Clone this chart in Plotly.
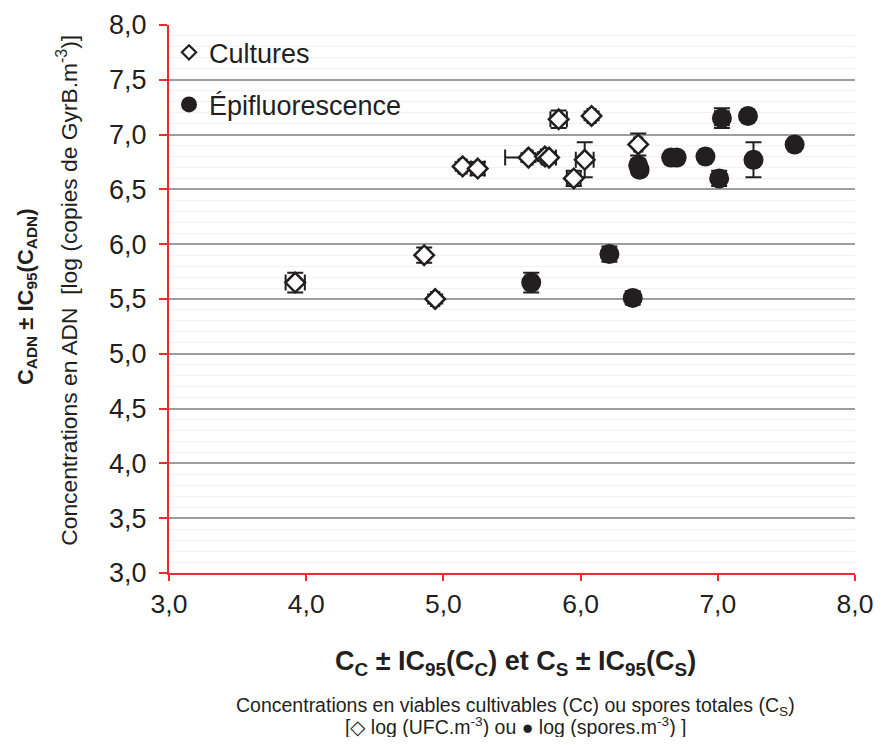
import plotly.graph_objects as go

# Cultures (diamonds): log UFC.m-3 vs log copies GyrB.m-3
cult_x = [3.92, 4.86, 4.94, 5.14, 5.25, 5.62, 5.74, 5.77, 5.84, 6.08, 5.95, 6.03, 6.42]
cult_y = [5.65, 5.90, 5.50, 6.71, 6.69, 6.79, 6.80, 6.79, 7.14, 7.17, 6.60, 6.77, 6.91]
cult_ex_plus = [0.07, 0.03, 0.03, 0.03, 0.05, 0.03, 0.03, 0.05, 0.06, 0.03, 0.05, 0.065, 0.03]
cult_ex_minus = [0.07, 0.03, 0.03, 0.03, 0.05, 0.17, 0.03, 0.05, 0.06, 0.03, 0.05, 0.065, 0.03]
cult_ey = [0.09, 0.07, 0.04, 0.04, 0.06, 0.04, 0.04, 0.05, 0.08, 0.04, 0.07, 0.16, 0.10]

# Epifluorescence (filled circles): log spores.m-3 vs log copies GyrB.m-3
epi_x = [6.42, 6.43, 6.66, 6.70, 6.91, 7.03, 7.22, 7.01, 7.26, 7.56, 6.21, 5.64, 6.38]
epi_y = [6.72, 6.68, 6.79, 6.79, 6.80, 7.15, 7.17, 6.60, 6.77, 6.91, 5.91, 5.65, 5.51]
epi_ex = [0.04, 0.04, 0.04, 0.04, 0.04, 0.05, 0.04, 0.04, 0.04, 0.04, 0.04, 0.04, 0.04]
epi_ey = [0.05, 0.05, 0.04, 0.05, 0.04, 0.09, 0.04, 0.07, 0.16, 0.04, 0.07, 0.09, 0.06]

tick_vals_y = [3.0, 3.5, 4.0, 4.5, 5.0, 5.5, 6.0, 6.5, 7.0, 7.5, 8.0]
tick_vals_x = [3.0, 4.0, 5.0, 6.0, 7.0, 8.0]

BLACK = "#231f20"
RED = "#ee2a2e"
FONT = "Arial, Liberation Sans, sans-serif"

err_style = dict(color=BLACK, thickness=2, width=8)

fig = go.Figure()

fig.add_trace(
    go.Scatter(
        x=cult_x,
        y=cult_y,
        mode="markers",
        name="Cultures",
        showlegend=False,
        marker=dict(symbol="diamond", size=15, color="white",
                    line=dict(color=BLACK, width=2.5)),
        error_x=dict(type="data", symmetric=False, array=cult_ex_plus,
                     arrayminus=cult_ex_minus, **err_style),
        error_y=dict(type="data", array=cult_ey, **err_style),
    )
)

fig.add_trace(
    go.Scatter(
        x=epi_x,
        y=epi_y,
        mode="markers",
        name="Épifluorescence",
        showlegend=False,
        marker=dict(symbol="circle", size=20, color=BLACK,
                    line=dict(color=BLACK, width=0)),
        error_x=dict(type="data", array=epi_ex, **err_style),
        error_y=dict(type="data", array=epi_ey, **err_style),
    )
)

# legend-only entries (smaller symbols, as in the original legend)
fig.add_trace(go.Scatter(
    x=[None], y=[None], mode="markers", name="Cultures", legendgroup="c",
    marker=dict(symbol="diamond", size=11, color="white", line=dict(color=BLACK, width=2.2)),
))
fig.add_trace(go.Scatter(
    x=[None], y=[None], mode="markers", name="Épifluorescence", legendgroup="e",
    marker=dict(symbol="circle", size=16, color=BLACK),
))

# page body has an 8px margin: figure is 16px smaller so the page does not scroll
fig.update_layout(
    width=866,
    height=729,
    margin=dict(l=161, r=19, t=17, b=164, autoexpand=False),
    paper_bgcolor="white",
    plot_bgcolor="white",
    separators=", ",
    font=dict(family=FONT, color=BLACK, size=27),
    showlegend=True,
    legend=dict(
        x=0.0, y=0.994, xanchor="left", yanchor="top",
        bgcolor="rgba(0,0,0,0)",
        font=dict(size=27, family=FONT, color=BLACK),
        tracegroupgap=14,
        itemwidth=30,
        itemsizing="trace",
    ),
)

fig.update_xaxes(
    range=[3, 8],
    tickvals=tick_vals_x,
    tickformat=".1f",
    showgrid=False,
    zeroline=False,
    showline=True,
    linecolor=RED,
    linewidth=2,
    ticks="outside",
    ticklen=6,
    tickwidth=2,
    tickcolor=RED,
    automargin=False,
    tickfont=dict(size=26.5, family=FONT, color=BLACK),
)

fig.update_yaxes(
    range=[3, 8],
    tickvals=tick_vals_y,
    tickformat=".1f",
    showgrid=True,
    gridcolor="#9d9d9d",
    gridwidth=1.5,
    minor=dict(dtick=0.1, showgrid=True, gridcolor="#f1f1f1", gridwidth=1),
    zeroline=False,
    showline=True,
    linecolor=RED,
    linewidth=2,
    ticks="outside",
    ticklen=8,
    tickwidth=2,
    tickcolor=RED,
    ticklabelstandoff=7,
    automargin=False,
    tickfont=dict(size=27, family=FONT, color=BLACK),
)

# axis titles as annotations
fig.add_annotation(
    text="<b>C<sub>ADN</sub> ± IC<sub>95</sub>(C<sub>ADN</sub>)</b>",
    xref="paper", yref="paper", x=-0.208, y=0.504,
    xanchor="center", yanchor="middle",
    textangle=-90, showarrow=False, font=dict(size=22, family=FONT, color=BLACK),
)
fig.add_annotation(
    text="Concentrations en ADN  [log (copies de GyrB.m<sup>-3</sup>)]",
    xref="paper", yref="paper", x=-0.148, y=0.516,
    xanchor="center", yanchor="middle",
    textangle=-90, showarrow=False, font=dict(size=22.8, family=FONT, color=BLACK),
)
fig.add_annotation(
    text="<b>C<sub>C</sub> ± IC<sub>95</sub>(C<sub>C</sub>) et C<sub>S</sub> ± IC<sub>95</sub>(C<sub>S</sub>)</b>",
    xref="paper", yref="paper", x=0.505, y=-0.165,
    xanchor="center", yanchor="middle",
    showarrow=False, font=dict(size=27, family=FONT, color=BLACK),
)
fig.add_annotation(
    text="Concentrations en viables cultivables (Cc) ou spores totales (C<sub>S</sub>)",
    xref="paper", yref="paper", x=0.505, y=-0.243,
    xanchor="center", yanchor="middle",
    showarrow=False, font=dict(size=19.5, family=FONT, color=BLACK),
)
fig.add_annotation(
    text="[◇ log (UFC.m<sup>-3</sup>) ou ● log (spores.m<sup>-3</sup>) ]",
    xref="paper", yref="paper", x=0.505, y=-0.279,
    xanchor="center", yanchor="middle",
    showarrow=False, font=dict(size=19.5, family=FONT, color=BLACK),
)

fig.write_html("out.html")
